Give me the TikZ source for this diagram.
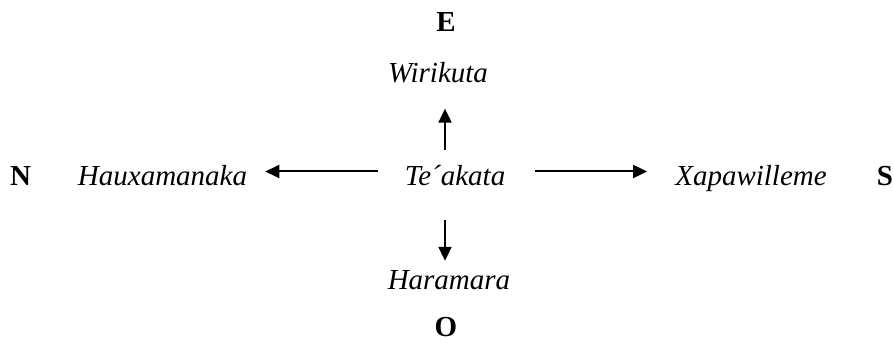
\documentclass[tikz,border=0pt]{standalone}
\usepackage{fontspec}
\setmainfont{Liberation Serif}
\usetikzlibrary{arrows.meta}
\begin{document}
\begin{tikzpicture}[x=1pt,y=1pt,
  lbl/.style={inner sep=0pt,anchor=base,font=\fontsize{29}{35}\selectfont},
  place/.style={lbl,font=\fontsize{29}{35}\selectfont\itshape},
  cardinal/.style={lbl,font=\fontsize{29}{35}\selectfont\bfseries},
  arr/.style={line width=2pt,-{Triangle[length=14pt,width=13pt]}}]
\useasboundingbox (0,0) rectangle (893,345);
% compass letters
\node[cardinal] (e) at (446,313) {E};
\node[cardinal] (o) at (446,9) {O};
\node[cardinal] (n) at (20.5,159) {N};
\node[cardinal] (s) at (885,159) {S};
% places
\node[place] (c) at (455,159) {Te´akata};
\node[place] (w) at (438,262) {Wirikuta};
\node[place] (h) at (449,55) {Haramara};
\node[place] (hx) at (162.5,159) {Hauxamanaka};
\node[place] (x) at (751,159) {Xapawilleme};
% column of the vertical arrows
\coordinate (ax) at (445,0);
% arrows out of the centre
\draw[arr,shorten <=27pt,shorten >=18pt] ([yshift=14.5pt]c.base west) -- ([yshift=14.5pt]hx.base east);
\draw[arr,shorten <=30pt,shorten >=28pt] ([yshift=14.5pt]c.base east) -- ([yshift=14.5pt]x.base west);
\draw[arr,shorten <=16pt,shorten >=25pt] (c.north -| ax) -- (w.south -| ax);
\draw[arr,shorten <=34pt,shorten >=10pt] (c.south -| ax) -- (h.north -| ax);
\end{tikzpicture}
\end{document}
